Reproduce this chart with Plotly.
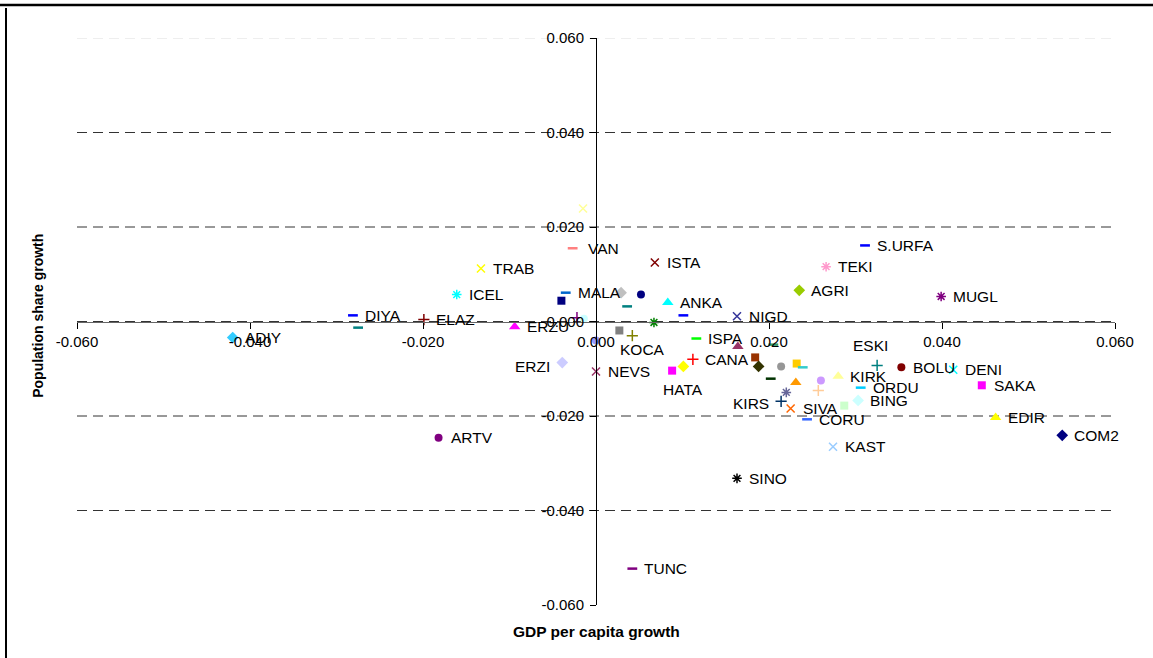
import plotly.graph_objects as go

# Province codes (blank = unlabelled point)
provinces = [
    "ADIY", "DIYA", "", "ELAZ", "ICEL", "TRAB", "ERZU", "VAN", "", "MALA",
    "", "", "", "", "", "", "", "ANKA", "", "NIGD",
    "", "", "KOCA", "ERZI", "NEVS", "HATA", "", "CANA", "ISPA", "",
    "", "", "", "", "", "", "", "", "", "KIRS",
    "SIVA", "CORU", "KAST", "", "", "KIRK", "", "BING", "ORDU", "ESKI",
    "BOLU", "DENI", "SAKA", "EDIR", "COM2", "MUGL", "AGRI", "TEKI", "S.URFA", "ISTA",
    "ARTV", "SINO", "TUNC",
]

# GDP per capita growth (x)
gdp_growth = [
    -0.0420, -0.0281, -0.0275, -0.0199, -0.0161, -0.0133, -0.0094, -0.0027, -0.0015, -0.0035,
    -0.0040, -0.0022, -0.0014, 0.0000, 0.0029, 0.0052, 0.0036, 0.0083, 0.0101, 0.0163,
    0.0067, 0.0027, 0.0042, -0.0039, 0.0000, 0.0088, 0.0101, 0.0112, 0.0116, 0.0164,
    0.0205, 0.0184, 0.0188, 0.0202, 0.0214, 0.0232, 0.0239, 0.0231, 0.0220, 0.0214,
    0.0225, 0.0244, 0.0274, 0.0260, 0.0257, 0.0280, 0.0287, 0.0303, 0.0306, 0.0325,
    0.0353, 0.0413, 0.0446, 0.0462, 0.0539, 0.0399, 0.0235, 0.0266, 0.0311, 0.0068,
    -0.0182, 0.0163, 0.0042,
]

# Population share growth (y)
pop_growth = [
    -0.0034, 0.0013, -0.0013, 0.0004, 0.0057, 0.0112, -0.0011, 0.0155, 0.0239, 0.0061,
    0.0044, 0.0008, 0.0006, -0.0040, 0.0061, 0.0057, 0.0032, 0.0040, 0.0013, 0.0011,
    -0.0002, -0.0019, -0.0030, -0.0087, -0.0106, -0.0104, -0.0095, -0.0080, -0.0036, -0.0053,
    -0.0049, -0.0076, -0.0095, -0.0121, -0.0095, -0.0089, -0.0097, -0.0129, -0.0150, -0.0169,
    -0.0184, -0.0207, -0.0265, -0.0125, -0.0146, -0.0116, -0.0178, -0.0167, -0.0140, -0.0093,
    -0.0097, -0.0102, -0.0135, -0.0203, -0.0241, 0.0053, 0.0066, 0.0116, 0.0161, 0.0125,
    -0.0246, -0.0332, -0.0523,
]

tick_values = [-0.06, -0.04, -0.02, 0.0, 0.02, 0.04, 0.06]
tick_labels = [f"{v:.3f}" for v in tick_values]
grid_levels = [0.04, 0.02, 0.0, -0.02, -0.04]

# Marker style per point: (symbol, colour)
styles = [
    ("diamond", "#33CCFF"), ("line-ew", "#0000FF"), ("line-ew", "#008080"), ("cross-thin", "#800000"),
    ("asterisk", "#00FFFF"), ("x-thin", "#FFFF00"), ("triangle-up", "#FF00FF"), ("line-ew", "#FF8080"),
    ("x-thin", "#FFFF99"), ("line-ew", "#0066CC"), ("square", "#000080"), ("cross-thin", "#800080"),
    ("circle", "#CCFFFF"), ("circle", "#9999FF"), ("diamond", "#C0C0C0"), ("circle", "#000080"),
    ("line-ew", "#008080"), ("triangle-up", "#00FFFF"), ("line-ew", "#0000FF"), ("x-thin", "#333399"),
    ("asterisk", "#008000"), ("square", "#808080"), ("cross-thin", "#808000"), ("diamond", "#CCCCFF"),
    ("x-thin", "#993366"), ("square", "#FF00FF"), ("diamond", "#FFFF00"), ("cross-thin", "#FF0000"),
    ("line-ew", "#00FF00"), ("triangle-up", "#993366"), ("line-ew", "#339966"), ("square", "#993300"),
    ("diamond", "#333300"), ("line-ew", "#003300"), ("circle", "#969696"), ("square", "#FFCC00"),
    ("line-ew", "#33CCCC"), ("triangle-up", "#FF9900"), ("asterisk", "#666699"), ("cross-thin", "#003366"),
    ("x-thin", "#FF6600"), ("line-ew", "#3366FF"), ("x-thin", "#99CCFF"), ("circle", "#CC99FF"),
    ("cross-thin", "#FFCC99"), ("triangle-up", "#FFFF99"), ("square", "#CCFFCC"), ("diamond", "#CCFFFF"),
    ("line-ew", "#00CCFF"), ("cross-thin", "#008080"), ("circle", "#800000"), ("x-thin", "#00FFFF"),
    ("square", "#FF00FF"), ("triangle-up", "#FFFF00"), ("diamond", "#000080"), ("asterisk", "#800080"),
    ("diamond", "#99CC00"), ("asterisk", "#FF99CC"), ("line-ew", "#0000FF"), ("x-thin", "#800000"),
    ("circle", "#800080"), ("asterisk", "#000000"), ("line-ew", "#800080"),
]

symbol_size = {"line-ew": 7, "x-thin": 8, "asterisk": 8, "cross-thin": 8,
               "circle": 8, "square": 8, "diamond": 9, "triangle-up": 10}

# Label placement: (xanchor, xshift, yshift); default is to the right of the marker
label_place = {
    "ERZI": ("right", -10, -4),
    "KIRS": ("right", -10, -2),
    "HATA": ("center", 11, -19),
    "KOCA": ("center", 10, -14),
    "ESKI": ("center", -7, 20),
    "VAN": ("left", 13, 0),
}

FONT = "Liberation Sans, Arial, sans-serif"

fig = go.Figure()
annotations = []

for name, gx, py, (sym, col) in zip(provinces, gdp_growth, pop_growth, styles):
    open_sym = sym in ("line-ew", "x-thin", "asterisk", "cross-thin")
    lw = 2.5 if sym == "line-ew" else (1.5 if open_sym else 0)
    fig.add_trace(go.Scatter(
        x=[gx], y=[py],
        mode="markers",
        marker=dict(symbol=sym, size=symbol_size[sym], color=col,
                    line=dict(color=col, width=lw)),
        showlegend=False,
        hoverinfo="skip",
    ))
    if name:
        xa, xs, ys = label_place.get(name, ("left", 10, 0))
        annotations.append(dict(
            x=gx, y=py, xref="x", yref="y", text=name, showarrow=False,
            xanchor=xa, yanchor="middle", xshift=xs, yshift=ys,
            font=dict(family=FONT, size=15.5, color="#000000"),
        ))

shapes = []
# faint top gridline, then the dashed ones
shapes.append(dict(type="line", xref="x", yref="y", x0=tick_values[0], x1=tick_values[-1],
                   y0=tick_values[-1], y1=tick_values[-1], layer="below",
                   line=dict(color="#DDDDDD", width=1, dash="10px,6px")))
for g in grid_levels:
    shapes.append(dict(type="line", xref="x", yref="y", x0=tick_values[0], x1=tick_values[-1],
                       y0=g, y1=g, layer="below",
                       line=dict(color="#333333", width=1, dash="10px,6px")))
# outer frame (top and left edges)
shapes.append(dict(type="line", xref="paper", yref="paper", x0=-0.075, x1=1.04,
                   y0=1.0582, y1=1.0582, line=dict(color="#000000", width=2.5)))
shapes.append(dict(type="line", xref="paper", yref="paper", x0=-0.0684, x1=-0.0684,
                   y0=1.053, y1=-0.1, line=dict(color="#000000", width=2)))

axis_common = dict(
    range=[tick_values[0], tick_values[-1]],
    tickmode="array", tickvals=tick_values, ticktext=tick_labels,
    showgrid=False, zeroline=False, showline=True,
    ticks="outside", ticklen=6, tickwidth=1,
    tickfont=dict(family=FONT, size=15, color="#000000"),
    anchor="free", position=0.5,
)

annotations += [
    dict(text="<b>GDP per capita growth</b>", xref="paper", yref="paper",
         x=0.5, y=-0.046, xanchor="center", yanchor="middle", showarrow=False,
         font=dict(family=FONT, size=15.5, color="#000000")),
    dict(text="<b>Population share growth</b>", xref="paper", yref="paper",
         x=-0.0376, y=0.51, xanchor="center", yanchor="middle", showarrow=False,
         textangle=-90, font=dict(family=FONT, size=14, color="#000000")),
]

fig.update_layout(
    width=1153, height=658,
    margin=dict(l=77, r=38, t=38, b=53),
    paper_bgcolor="#FFFFFF", plot_bgcolor="#FFFFFF",
    xaxis=dict(**axis_common, linecolor="#666666", tickcolor="#000000"),
    yaxis=dict(**axis_common, linecolor="#000000", tickcolor="#000000",
               ticklabelstandoff=3),
    shapes=shapes,
    annotations=annotations,
)

fig.write_html("out.html")
